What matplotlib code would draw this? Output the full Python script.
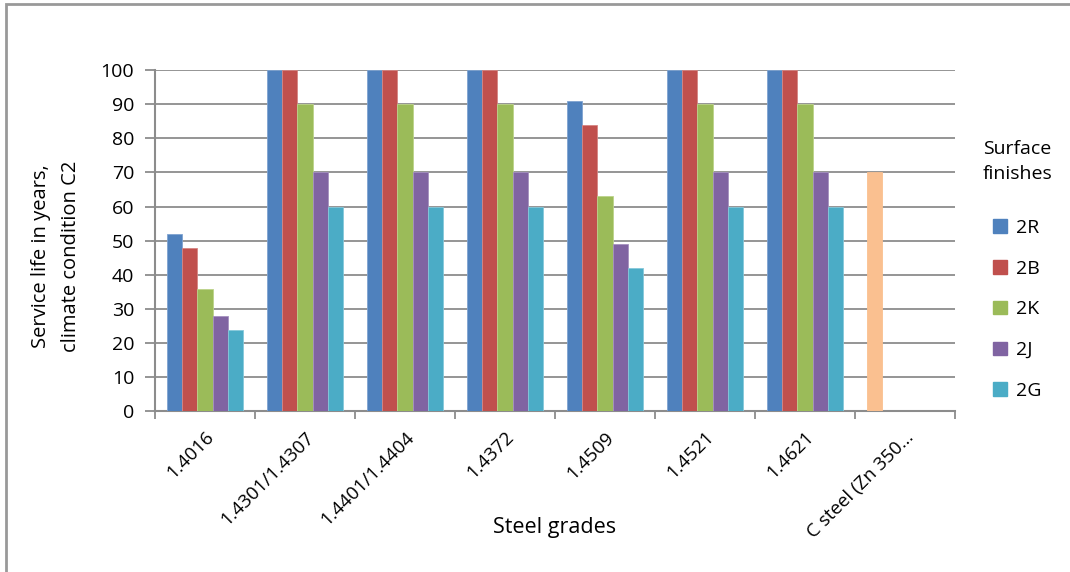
import numpy as np
from matplotlib import pyplot as plt
from matplotlib.patches import Patch

plt.rcParams['font.family'] = ['Open Sans', 'DejaVu Sans']

grades = ['1.4016', '1.4301/1.4307', '1.4401/1.4404', '1.4372', '1.4509',
          '1.4521', '1.4621', 'C steel (Zn 350...']
finishes = ['2R', '2B', '2K', '2J', '2G']

# service life per finish, one value per steel grade (nan = no bar)
r2 = [52, 100, 100, 100, 91, 100, 100, 70]
b2 = [48, 100, 100, 100, 84, 100, 100, np.nan]
k2 = [36, 90, 90, 90, 63, 90, 90, np.nan]
j2 = [28, 70, 70, 70, 49, 70, 70, np.nan]
g2 = [24, 60, 60, 60, 42, 60, 60, np.nan]
series = [r2, b2, k2, j2, g2]

colors = ['#4f81bd', '#c0504d', '#9bbb59', '#8064a2', '#4bacc6']
edges = ['#7fa3d1', '#d68583', '#bcd38a', '#a591c0', '#86c8da']
cs_color = '#fac090'

fig = plt.figure(figsize=(10.7, 5.72), dpi=100)
ax = fig.add_axes([0.1449, 0.2806, 0.7476, 0.5970])

x = np.arange(len(grades))
w = 1 / 6.5
for i, (vals, c, e) in enumerate(zip(series, colors, edges)):
    bars = ax.bar(x + (i - 2) * w, vals, w, color=c, edgecolor=e,
                  linewidth=0.6, zorder=3)
    if i == 0:
        bars[-1].set_facecolor(cs_color)
        bars[-1].set_edgecolor(cs_color)

ax.set_xlim(-0.5, len(grades) - 0.5)
ax.set_ylim(0, 100)
ax.set_yticks(range(0, 101, 10))
ax.yaxis.grid(True, color='#8c8c8c', linewidth=1.3, zorder=0)

ax.set_xticks(x)
ax.set_xticklabels(grades, rotation=45, ha='right', va='top',
                   rotation_mode='anchor', fontsize=13.5)
ax.set_xticks(np.arange(-0.5, len(grades)), minor=True)
ax.tick_params(axis='x', which='major', length=0, pad=12)
ax.tick_params(axis='x', which='minor', length=6, width=1.3, color='#8c8c8c')
ax.tick_params(axis='y', length=7, width=1.3, color='#8c8c8c', labelsize=14, pad=8)

for s in ['top', 'right']:
    ax.spines[s].set_visible(False)
for s in ['left', 'bottom']:
    ax.spines[s].set_color('#8c8c8c')
    ax.spines[s].set_linewidth(1.5)

fig.text(0.5187, 1 - 527 / 572, 'Steel grades', fontsize=15.5,
         ha='center', va='center')
fig.text(56 / 1070, 1 - 256 / 572, 'Service life in years,\nclimate condition C2',
         fontsize=14.5, rotation=90, ha='center', va='center',
         multialignment='center', linespacing=1.6)

handles = [Patch(facecolor=c, edgecolor=c) for c in colors]
leg = fig.legend(handles, finishes, title='Surface\nfinishes',
                 loc='upper left', bbox_to_anchor=(0.902, 0.785),
                 frameon=False, fontsize=14, title_fontsize=14,
                 handlelength=0.7, handleheight=0.7, handletextpad=0.5,
                 labelspacing=1.17)
leg.get_title().set_linespacing(1.45)
leg._legend_box.sep = 26

# chart frame
fig.add_artist(plt.Rectangle((0.0056, -0.1), 1.1, 1.093,
                             transform=fig.transFigure, fill=False,
                             edgecolor='#999999', linewidth=2))

fig.savefig('out.png', dpi=100)
